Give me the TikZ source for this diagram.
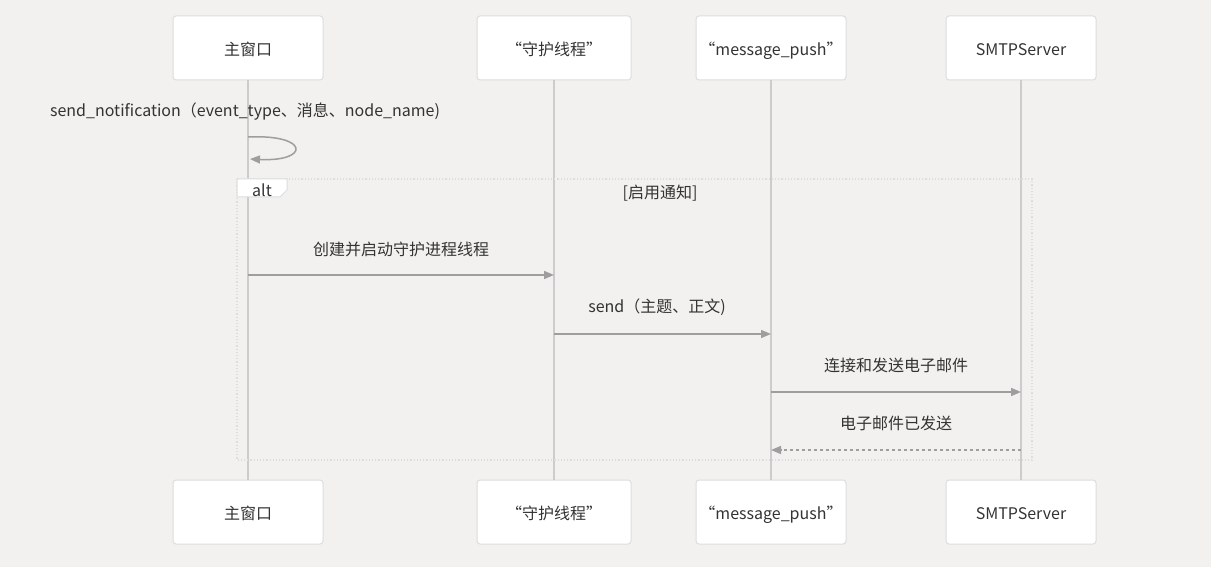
\documentclass[tikz,border=0pt]{standalone}
\usepackage{fontspec}
\setmainfont{Noto Sans CJK SC}
\usetikzlibrary{arrows.meta}
\definecolor{bg}{HTML}{F2F1EF}
\definecolor{boxline}{HTML}{DDDDDD}
\definecolor{life}{HTML}{CCCCCC}
\definecolor{msg}{HTML}{9E9E9E}
\definecolor{txt}{HTML}{333333}
\tikzset{
  actor/.style={draw=boxline, line width=1pt, fill=white, rounded corners=3pt, minimum width=152pt, minimum height=64pt, text=txt, font=\fontsize{16}{19}\selectfont, inner sep=0pt, text height=15.5pt, text depth=0pt},
  lifeline/.style={draw=life, line width=2pt},
  message/.style={draw=msg, line width=1.5pt, -{Triangle[length=10pt,width=8pt]}},
  reply/.style={message, dash pattern=on 3pt off 3pt},
  mlabel/.style={text=txt, font=\fontsize{16}{19}\selectfont, inner sep=0pt},
}
\begin{document}
\begin{tikzpicture}[x=1pt,y=-1pt]
\useasboundingbox[fill=bg] (0,0) rectangle (1211,567);
% actors top
\node[actor, minimum width=150pt] (a1) at (248,48) {主窗口};
\node[actor, minimum width=154pt] (a2) at (554,48) {“守护线程”};
\node[actor, minimum width=150pt] (a3) at (771,48) {“message\_push”};
\node[actor, minimum width=150pt] (a4) at (1021,48) {SMTPServer};
% actors bottom
\node[actor, minimum width=150pt] (b1) at (248,512) {主窗口};
\node[actor, minimum width=154pt] (b2) at (554,512) {“守护线程”};
\node[actor, minimum width=150pt] (b3) at (771,512) {“message\_push”};
\node[actor, minimum width=150pt] (b4) at (1021,512) {SMTPServer};
% lifelines
\draw[lifeline] (a1) -- (b1);
\draw[lifeline] (a2) -- (b2);
\draw[lifeline] (a3) -- (b3);
\draw[lifeline] (a4) -- (b4);
% self message
\node[mlabel] (l0) at (245,112) {send\_notification（event\_type、消息、node\_name)};
\coordinate (s0) at (248,137);
\coordinate (s1) at (250,159);
\draw[message] (s0) .. controls (310,134) and (310,162) .. (s1);
% alt frame
\draw[draw=boxline, line width=1.2pt, dotted] (237,179) rectangle (1032,460);
\draw[draw=boxline, line width=1pt, fill=white] (237,179) -- (287,179) -- (287,190) -- (280,197) -- (237,197) -- cycle;
\node[mlabel] (alt) at (262,190) {alt};
\node[mlabel] (cond) at (660,193) {[启用通知]};
% messages
\coordinate (m1s) at (248,275); \coordinate (m1e) at (554,275);
\draw[message] (m1s) -- (m1e);
\node[mlabel] (l1) at (401,249) {创建并启动守护进程线程};
\coordinate (m2s) at (554,334); \coordinate (m2e) at (771,334);
\draw[message] (m2s) -- (m2e);
\node[mlabel] (l2) at (657,307) {send（主题、正文)};
\coordinate (m3s) at (771,392); \coordinate (m3e) at (1021,392);
\draw[message] (m3s) -- (m3e);
\node[mlabel] (l3) at (896,365) {连接和发送电子邮件};
\coordinate (m4s) at (1021,450); \coordinate (m4e) at (771,450);
\draw[reply] (m4s) -- (m4e);
\node[mlabel] (l4) at (896,423) {电子邮件已发送};
\end{tikzpicture}
\end{document}
